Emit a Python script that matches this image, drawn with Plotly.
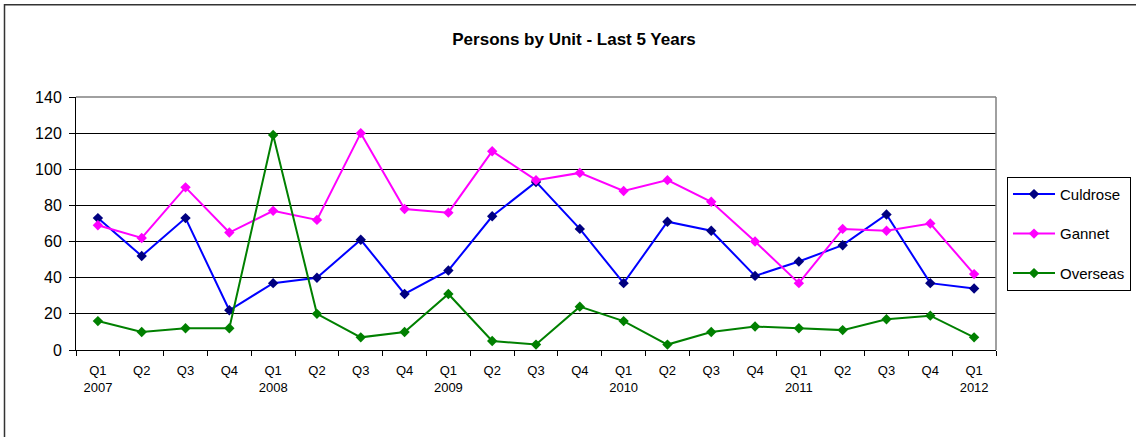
import plotly.graph_objects as go

quarters = ["Q1", "Q2", "Q3", "Q4"] * 5 + ["Q1"]
years = [2007] * 4 + [2008] * 4 + [2009] * 4 + [2010] * 4 + [2011] * 4 + [2012]
categories = [f"{q} {y}" for q, y in zip(quarters, years)]
tick_labels = [f"{q}<br>{y}" if q == "Q1" else q for q, y in zip(quarters, years)]

culdrose = [73, 52, 73, 22, 37, 40, 61, 31, 44, 74, 93, 67, 37, 71, 66, 41, 49, 58, 75, 37, 34]
gannet = [69, 62, 90, 65, 77, 72, 120, 78, 76, 110, 94, 98, 88, 94, 82, 60, 37, 67, 66, 70, 42]
overseas = [16, 10, 12, 12, 119, 20, 7, 10, 31, 5, 3, 24, 16, 3, 10, 13, 12, 11, 17, 19, 7]

FONT = "Liberation Sans, Arial, sans-serif"

W, H = 1136, 437
L, R, T, B = 76, 996, 97, 350.5   # plot-area edges in pixels
PW, PH = R - L, B - T

def px(xp):
    return (xp - L) / PW

def py(yp):
    return (B - yp) / PH

fig = go.Figure()
series = [
    ("Culdrose", culdrose, "#0000FF", "#000080"),
    ("Gannet", gannet, "#FF00FF", "#FF00FF"),
    ("Overseas", overseas, "#008000", "#008000"),
]
for name, vals, lc, mc in series:
    fig.add_trace(go.Scatter(
        x=categories, y=vals, name=name, mode="lines+markers",
        line=dict(color=lc, width=2),
        marker=dict(symbol="diamond", size=8, color=mc),
        legendgroup=name,
    ))

fig.update_layout(
    width=W, height=H,
    margin=dict(l=L, r=W - R, t=T, b=H - B, autoexpand=False),
    paper_bgcolor="white", plot_bgcolor="white",
    font=dict(family=FONT, color="black"),
    title=dict(text="<b>Persons by Unit - Last 5 Years</b>", x=574 / W, xanchor="center",
               y=1 - 39 / H, yanchor="middle", font=dict(size=17, family=FONT)),
    showlegend=True,
    legend=dict(
        x=px(1007), xanchor="left",
        y=py(177), yanchor="top",
        bordercolor="black", borderwidth=1, bgcolor="white",
        font=dict(size=15, family=FONT),
        tracegroupgap=17, itemwidth=42,
        entrywidth=124, entrywidthmode="pixels",
    ),
)

fig.update_xaxes(
    type="category", categoryorder="array", categoryarray=categories,
    tickmode="array", tickvals=categories, ticktext=tick_labels,
    tickson="boundaries", ticks="outside", ticklen=5, tickcolor="black",
    showline=True, linecolor="black", linewidth=1,
    showgrid=False, tickfont=dict(size=13, family=FONT), tickangle=0,
    ticklabelstandoff=8,
    range=[-0.5, 20.5],
)
fig.update_yaxes(
    range=[0, 140], dtick=20, tick0=0,
    ticks="outside", ticklen=6, tickcolor="black",
    showline=True, linecolor="black", linewidth=1,
    showgrid=True, gridcolor="black", gridwidth=1,
    tickfont=dict(size=16, family=FONT), zeroline=False,
    ticklabelstandoff=4,
)

# gray plot-area border on top and right
fig.add_shape(type="line", xref="paper", yref="paper", x0=0, x1=1, y0=1, y1=1,
              line=dict(color="#808080", width=1.5))
fig.add_shape(type="line", xref="paper", yref="paper", x0=1, x1=1, y0=0, y1=1,
              line=dict(color="#808080", width=1.5))
# outer chart frame (right and bottom edges lie outside the visible area)
fig.add_shape(type="rect", xref="paper", yref="paper",
              x0=px(4.5), x1=px(1150),
              y0=py(460), y1=py(4.5),
              line=dict(color="#333333", width=1.5))

fig.write_html("out.html", config={"displayModeBar": False},
               post_script="document.body.style.margin='0';")
